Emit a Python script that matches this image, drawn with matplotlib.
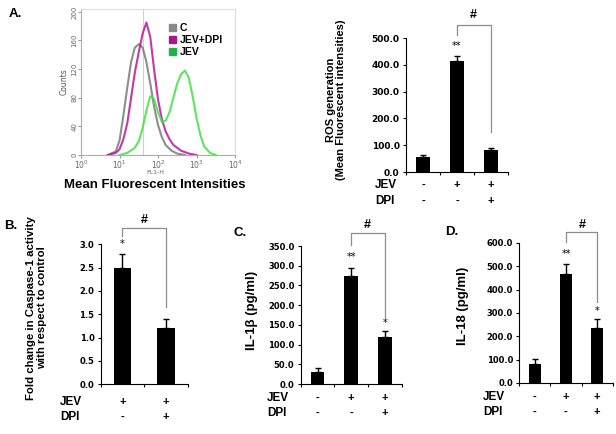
import matplotlib
matplotlib.use("Agg")
import matplotlib.pyplot as plt
import matplotlib.transforms as mtransforms
from matplotlib.patches import Patch

W, H = 616, 434

# ---------------- data ----------------
# A. flow cytometry histogram (FL1-H value, counts)
c_fl1 = [5, 8, 10, 12.6, 16, 20, 25, 32, 40, 50, 63, 79, 100, 126, 158, 224, 316, 500]
c_counts = [0, 5, 20, 55, 95, 130, 150, 155, 150, 130, 100, 68, 42, 25, 14, 6, 2, 0]

dpi_fl1 = [5, 8, 10, 12.6, 16, 20, 25, 32, 40, 50, 63, 79, 100, 126, 158, 200, 251, 398, 631, 1000]
dpi_counts = [0, 3, 8, 22, 45, 80, 115, 145, 170, 185, 165, 120, 78, 50, 33, 22, 14, 6, 2, 0]

jev_fl1 = [10, 16, 25, 32, 40, 50, 63, 79, 100, 126, 158, 200, 251, 316, 398, 501,
           631, 794, 1000, 1259, 1585, 2239, 3162]
jev_counts = [0, 3, 10, 20, 38, 62, 82, 78, 60, 46, 48, 60, 80, 100, 113, 118,
              108, 82, 52, 28, 12, 3, 0]

hist_labels = ["C", "JEV+DPI", "JEV"]

# A. ROS generation
ros_vals = [57, 415, 81]
ros_err = [7, 16, 10]

# B. caspase-1 fold change
casp_vals = [2.5, 1.2]
casp_err = [0.3, 0.2]

# C. IL-1beta
il1b_vals = [30, 274, 118]
il1b_err = [10, 21, 17]

# D. IL-18
il18_vals = [83, 468, 235]
il18_err = [20, 43, 38]

jev_row3 = ["-", "+", "+"]
dpi_row3 = ["-", "-", "+"]
jev_row2 = ["+", "+"]
dpi_row2 = ["-", "+"]

BOLD = dict(fontweight="bold", family=["Liberation Sans", "DejaVu Sans"])


def px_rect(l, t, r, b):
    return [l / W, 1 - b / H, (r - l) / W, (b - t) / H]


def fy(y):
    return 1 - y / H


def bar_panel(rect, vals, errs, ylim, yticks, tick_size):
    ax = fig.add_axes(px_rect(*rect))
    x = list(range(len(vals)))
    ax.bar(x, vals, width=0.4, color="black", zorder=2)
    ax.errorbar(x, vals, yerr=[[0] * len(vals), errs], fmt="none",
                ecolor="black", elinewidth=1, capsize=2.5, capthick=1, zorder=3)
    ax.set_xlim(-0.5, len(vals) - 0.5)
    ax.set_ylim(*ylim)
    ax.set_yticks(yticks)
    ax.set_yticklabels([f"{t:.1f}" for t in yticks], fontsize=tick_size,
                       fontweight="bold", family="DejaVu Sans")
    ax.set_xticks([i - 0.5 for i in range(len(vals) + 1)])
    ax.set_xticklabels([])
    ax.tick_params(axis="both", length=2.5, width=0.8, pad=2)
    for s in ["top", "right"]:
        ax.spines[s].set_visible(False)
    for s in ["left", "bottom"]:
        ax.spines[s].set_linewidth(0.8)
    return ax


def bracket(ax, x1, x2, ytop, yl, yr):
    ax.plot([x1, x1, x2, x2], [yl, ytop, ytop, yr], color="#8c8c8c",
            lw=0.9, clip_on=False, zorder=1)


def stars(ax, x, y, s):
    ax.text(x, y, s, ha="center", va="center", fontsize=7, clip_on=False)


def sign_rows(ax, label_x, y_jev, y_dpi, jev, dpi):
    tr = mtransforms.blended_transform_factory(ax.transData, fig.transFigure)
    for i, (a, b) in enumerate(zip(jev, dpi)):
        ax.text(i, fy(y_jev), a, transform=tr, ha="center", va="center", fontsize=8, **BOLD)
        ax.text(i, fy(y_dpi), b, transform=tr, ha="center", va="center", fontsize=8, **BOLD)
    fig.text(label_x / W, fy(y_jev), "JEV", ha="left", va="center", fontsize=8.5, **BOLD)
    fig.text(label_x / W, fy(y_dpi), "DPI", ha="left", va="center", fontsize=8.5, **BOLD)


fig = plt.figure(figsize=(W / 100, H / 100), dpi=100)

# ---------------- A. histogram ----------------
axh = fig.add_axes(px_rect(81, 9, 235, 155))
axh.axvline(40, color="#d0d0d0", lw=0.8, zorder=0)
axh.plot(c_fl1, c_counts, color="#7a7a7a", lw=1.5, alpha=0.85)
axh.plot(dpi_fl1, dpi_counts, color="#b5179e", lw=1.5, alpha=0.85)
axh.plot(jev_fl1, jev_counts, color="#44e044", lw=1.5, alpha=0.85)
axh.set_xscale("log")
axh.set_xlim(1, 1e4)
axh.set_ylim(0, 204)
axh.set_yticks(range(0, 201, 40))
axh.set_yticklabels([str(v) for v in range(0, 201, 40)], rotation=90,
                    va="center", fontsize=5, color="#666666")
axh.set_xticks([1, 10, 100, 1000, 10000])
axh.set_xticklabels([r"$10^0$", r"$10^1$", r"$10^2$", r"$10^3$", r"$10^4$"],
                    fontsize=5.5, color="#666666")
axh.minorticks_off()
axh.tick_params(length=2, width=0.6, color="#888888", pad=0.5)
for s in ["top", "right"]:
    axh.spines[s].set_color("#dddddd")
for s in ["left", "bottom"]:
    axh.spines[s].set_color("#aaaaaa")
for s in axh.spines.values():
    s.set_linewidth(0.8)
axh.set_ylabel("Counts", fontsize=5.5, color="#555555", labelpad=2)
fig.text(155 / W, fy(172.5), "FL1-H", ha="center", va="center", fontsize=4.5, color="#666666")
fig.text(155 / W, fy(185), "Mean Fluorescent Intensities", ha="center", va="center",
         fontsize=9.5, **BOLD)
handles = [Patch(color=c) for c in ["#888888", "#a3198a", "#1fb34a"]]
axh.legend(handles, hist_labels, loc="upper left",
           bbox_to_anchor=((169 - 81) / 154, 1 - (23 - 9) / 146),
           frameon=False, handlelength=0.7, handleheight=0.7, handletextpad=0.3,
           labelspacing=0.2, borderpad=0, borderaxespad=0,
           prop=dict(weight="bold", size=7.5, family="Liberation Sans"))
fig.text(9 / W, fy(14), "A.", ha="left", va="center", fontsize=9.5, **BOLD)

# ---------------- A. ROS bars ----------------
axa = bar_panel((406, 38, 508, 172), ros_vals, ros_err, (0, 500),
                [0, 100, 200, 300, 400, 500], 6.5)
bracket(axa, 1, 2, 548, 511, 149)
fig.text(473 / W, fy(15), "#", ha="center", va="center", fontsize=9, **BOLD)
stars(axa, 1, 470, "**")
fig.text(336 / W, fy(100), "ROS generation\n(Mean Fluorescent intensities)",
         rotation=90, ha="center", va="center", multialignment="center",
         fontsize=8, linespacing=1.05, **BOLD)
sign_rows(axa, 375, 184.7, 201, jev_row3, dpi_row3)

# ---------------- B. caspase-1 ----------------
axb = bar_panel((100.7, 244.3, 187.7, 384.3), casp_vals, casp_err, (0, 3),
                [0, 0.5, 1.0, 1.5, 2.0, 2.5, 3.0], 6)
bracket(axb, 0, 1, 3.35, 3.18, 1.66)
fig.text(144 / W, fy(220), "#", ha="center", va="center", fontsize=9, **BOLD)
stars(axb, 0, 3.0, "*")
fig.text(36.5 / W, fy(308), "Fold change in Caspase-1 activity\nwith respect to control",
         rotation=90, ha="center", va="center", multialignment="center",
         fontsize=8.2, linespacing=1.1, **BOLD)
fig.text(4 / W, fy(226), "B.", ha="left", va="center", fontsize=9.5, **BOLD)
sign_rows(axb, 60, 402, 417, jev_row2, dpi_row2)

# ---------------- C. IL-1beta ----------------
axc = bar_panel((300.7, 246, 401.7, 384), il1b_vals, il1b_err, (0, 350),
                [0, 50, 100, 150, 200, 250, 300, 350], 6)
bracket(axc, 1, 2, 383, 352, 170)
fig.text(367 / W, fy(225), "#", ha="center", va="center", fontsize=9, **BOLD)
stars(axc, 1, 322, "**")
stars(axc, 2, 155, "*")
fig.text(252 / W, fy(310), "IL-1β (pg/ml)", rotation=90, ha="center", va="center",
         fontsize=9.5, **BOLD)
fig.text(234 / W, fy(233), "C.", ha="left", va="center", fontsize=9.5, **BOLD)
sign_rows(axc, 267, 397.7, 413, jev_row3, dpi_row3)

# ---------------- D. IL-18 ----------------
axd = bar_panel((519.3, 243, 612.7, 383), il18_vals, il18_err, (0, 600),
                [0, 100, 200, 300, 400, 500, 600], 6)
bracket(axd, 1, 2, 647, 604, 347)
fig.text(582 / W, fy(225), "#", ha="center", va="center", fontsize=9, **BOLD)
stars(axd, 1, 555, "**")
stars(axd, 2, 310, "*")
fig.text(463 / W, fy(306), "IL-18 (pg/ml)", rotation=90, ha="center", va="center",
         fontsize=9.5, **BOLD)
fig.text(445 / W, fy(232), "D.", ha="left", va="center", fontsize=9.5, **BOLD)
sign_rows(axd, 483, 396.7, 411.7, jev_row3, dpi_row3)

fig.savefig("out.png", dpi=100)
